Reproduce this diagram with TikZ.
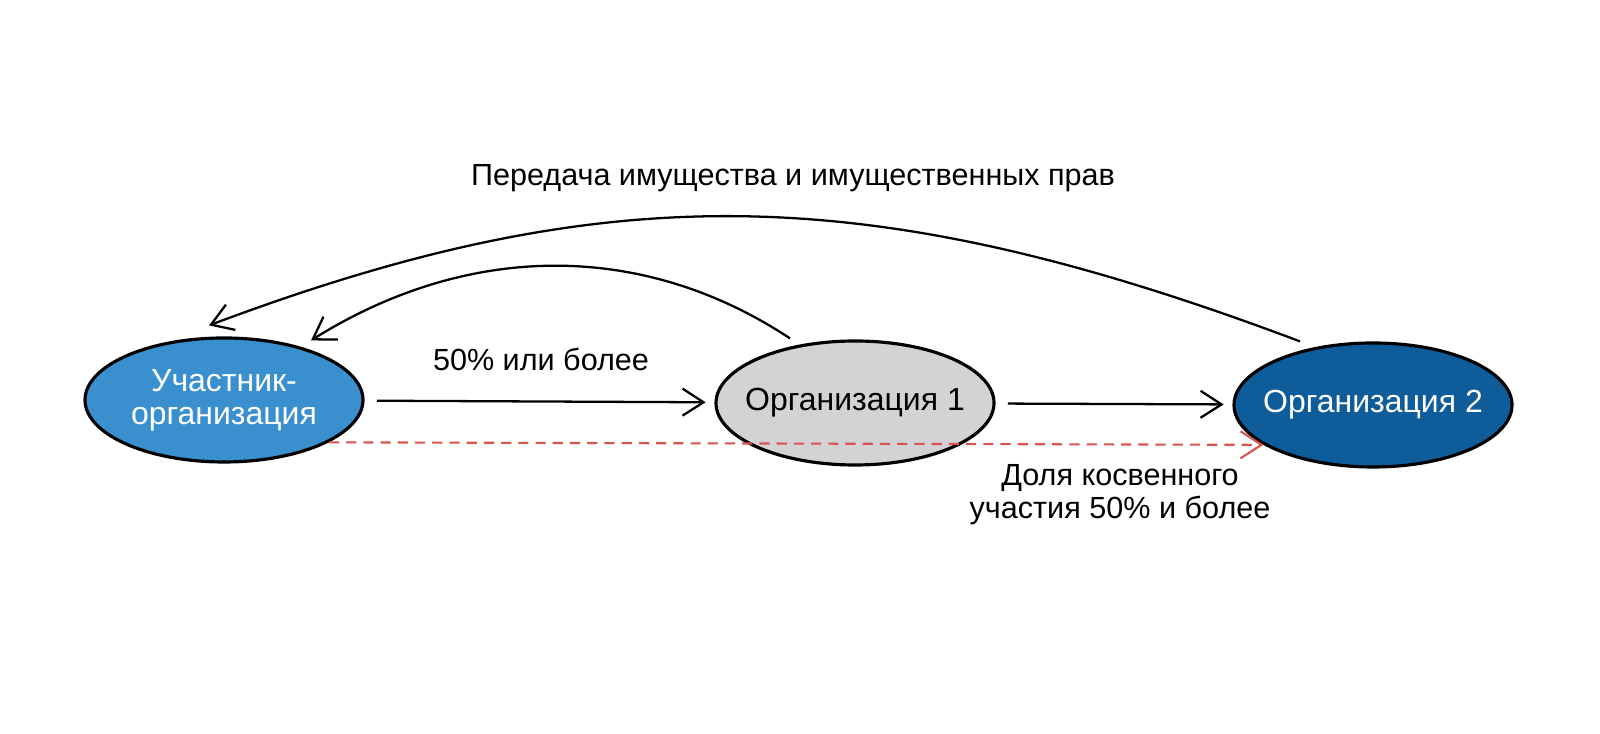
\documentclass[tikz,border=0pt]{standalone}
\usepackage{fontspec}
\setmainfont{Liberation Sans}
\usetikzlibrary{positioning,arrows.meta,shapes.geometric,calc}

\definecolor{orgblue}{HTML}{3A8FCF}
\definecolor{orggray}{HTML}{D3D3D6}
\definecolor{orgdark}{HTML}{0E5C9A}
\definecolor{linkred}{HTML}{D9534F}

\begin{document}
\begin{tikzpicture}[
  org/.style={ellipse,draw,line width=0.9pt,fill=#1,inner xsep=-0.15cm,inner ysep=0pt,minimum width=2.78cm,minimum height=1.24cm,align=center,font=\fontsize{9.1}{9.3}\selectfont},
  arr/.style={-{Straight Barb[length=2.1mm,width=2.7mm]},line width=0.65pt},
  dasharr/.style={-{Straight Barb[length=2.1mm,width=2.7mm]},line width=0.6pt,linkred,dash pattern=on 2.9pt off 2pt},
  lbl/.style={font=\fontsize{8.7}{9.3}\selectfont,align=center},
]
\useasboundingbox (0,0) rectangle (16,7.34);

% Organisations
\node[org=orgblue,text=white] (uo) at (2.24,3.34) {Участник-\\организация};
\node[org=orggray]            (o1) at (8.55,3.31) {Организация 1};
\node[org=orgdark,text=white] (o2) at (13.73,3.29) {Организация 2};

% Direct shares
\draw[arr,shorten <=3.5pt,shorten >=2.5pt] (uo) -- (o1);
\draw[arr,shorten <=3.5pt,shorten >=2.5pt] (o1) -- (o2);
\node[lbl] (share) at (5.41,3.75) {50\% или более};

% Indirect share
\draw[dasharr] (uo.-22) -- (o2.200);
\node[lbl] (indirect) at (11.20,2.39) {Доля косвенного\\участия 50\% и более};

% Property transfer
\draw[arr] ($(o1.north)+(-0.65,0.01)$) .. controls +(-1.45,0.96) and +(1.6,1.0) .. ($(uo.north)+(0.87,-0.04)$);
\draw[arr] ($(o2.north)+(-0.73,0)$) .. controls +(-4.3,1.62) and +(4.0,1.5) .. ($(uo.north)+(-0.15,0.11)$);
\node[lbl] (transfer) at (7.93,5.56) {Передача имущества и имущественных прав};

\end{tikzpicture}
\end{document}
